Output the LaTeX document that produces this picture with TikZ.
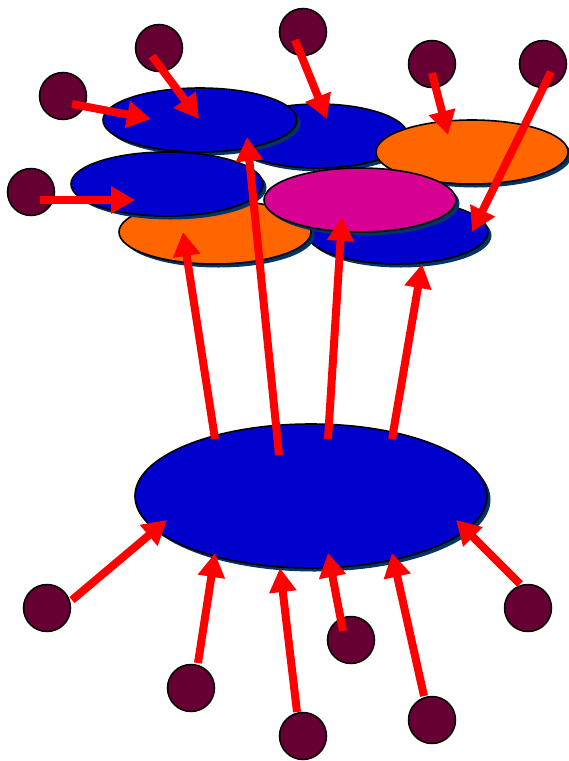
\documentclass[tikz,border=0pt]{standalone}
\usetikzlibrary{shapes.geometric,shadows,arrows.meta}
\definecolor{eblue}{RGB}{0,0,204}
\definecolor{eorange}{RGB}{255,102,0}
\definecolor{emag}{RGB}{214,0,147}
\definecolor{emaroon}{RGB}{102,0,51}
\definecolor{eshadow}{RGB}{0,51,102}
\definecolor{ered}{RGB}{255,0,0}
\tikzset{
  blob/.style={ellipse,draw=black,line width=1.6pt,inner sep=0pt,
    drop shadow={shadow xshift=3.5pt,shadow yshift=-3.5pt,fill=eshadow,opacity=1}},
  dot/.style={circle,draw=black,line width=1.5pt,fill=emaroon,inner sep=0pt,minimum size=47pt},
  arr/.style={draw=ered,line width=8pt,-{Triangle[length=24pt,width=26pt]}}
}
\begin{document}
\begin{tikzpicture}[x=1pt,y=-1pt]
\useasboundingbox (0,0) rectangle (569,761);
% upper ellipses
\node[blob,fill=eblue,minimum width=180pt,minimum height=64pt] (B) at (318,136) {};
\node[blob,fill=eblue,minimum width=194pt,minimum height=64pt] (A) at (200,120) {};
\node[blob,fill=eorange,minimum width=192pt,minimum height=64pt] (C) at (472,152) {};
\node[blob,fill=eblue,minimum width=182pt,minimum height=64pt] (G) at (397,232) {};
\node[blob,fill=eorange,minimum width=192pt,minimum height=64pt] (E) at (215,232) {};
\node[blob,fill=emag,minimum width=192pt,minimum height=64pt] (F) at (360,200) {};
\node[blob,fill=eblue,minimum width=192pt,minimum height=64pt] (D) at (167,184) {};
% big ellipse
\node[blob,fill=eblue,minimum width=352pt,minimum height=144pt] (H) at (311,496) {};
% small circles
\node[dot] (c1) at (159,48) {};
\node[dot] (c2) at (63,96) {};
\node[dot] (c3) at (31,192) {};
\node[dot] (c4) at (303,32) {};
\node[dot] (c5) at (432,64) {};
\node[dot] (c6) at (543,64) {};
\node[dot] (c7) at (47,608) {};
\node[dot] (c8) at (191,688) {};
\node[dot] (c9) at (303,736) {};
\node[dot] (c10) at (351,640) {};
\node[dot] (c11) at (432,720) {};
\node[dot] (c12) at (528,608) {};
% arrows
\draw[arr] ([shift={(-7,8)}]c1.center) -- ([shift={(-1,-1)}]A.center);
\draw[arr] ([shift={(9,8)}]c2.center) -- ([shift={(-49,-1)}]A.center);
\draw[arr] ([shift={(9,8)}]c3.center) -- ([shift={(-32,16)}]D.center);
\draw[arr] ([shift={(-8,8)}]c4.center) -- ([shift={(9,-17)}]B.center);
\draw[arr] ([shift={(0,9)}]c5.center) -- ([shift={(-24,-17)}]C.center);
\draw[arr] ([shift={(8,8)}]c6.center) -- ([shift={(75,0)}]G.center);
\draw[arr] ([shift={(-96,-57)}]H.center) -- ([shift={(-32,0)}]E.center);
\draw[arr] ([shift={(-32,-41)}]H.center) -- ([shift={(47,17)}]A.center);
\draw[arr] ([shift={(17,-57)}]H.center) -- ([shift={(-18,17)}]F.center);
\draw[arr] ([shift={(81,-57)}]H.center) -- ([shift={(25,32)}]G.center);
\draw[arr] ([shift={(25,-8)}]c7.center) -- ([shift={(-144,24)}]H.center);
\draw[arr] ([shift={(7,-25)}]c8.center) -- ([shift={(-96,57)}]H.center);
\draw[arr] ([shift={(-6,-24)}]c9.center) -- ([shift={(-31,72)}]H.center);
\draw[arr] ([shift={(-8,-9)}]c10.center) -- ([shift={(17,57)}]H.center);
\draw[arr] ([shift={(-8,-24)}]c11.center) -- ([shift={(81,57)}]H.center);
\draw[arr] ([shift={(-8,-24)}]c12.center) -- ([shift={(145,24)}]H.center);
\end{tikzpicture}
\end{document}
